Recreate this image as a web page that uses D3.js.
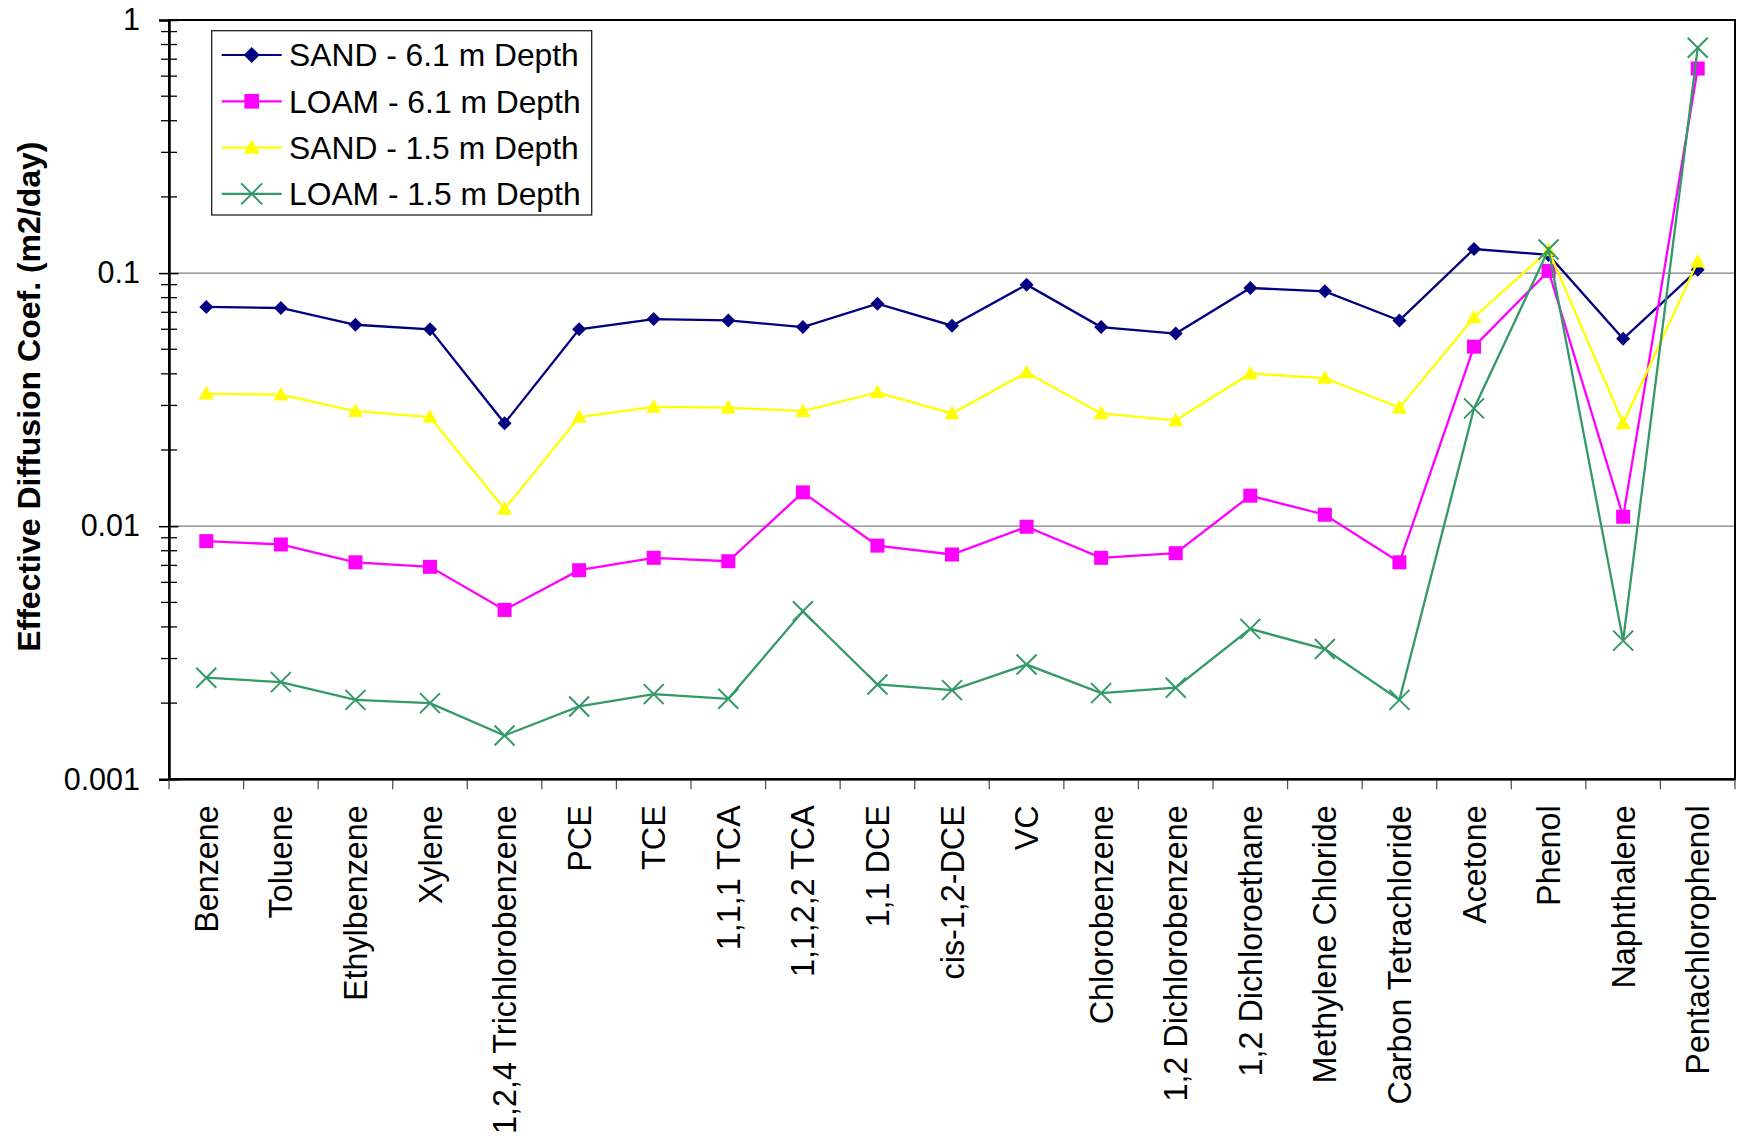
<!DOCTYPE html>
<html>
<head>
<meta charset="utf-8">
<script src="https://cdn.jsdelivr.net/npm/d3@7"></script>
<style>
  html, body { margin: 0; padding: 0; background: #fff; }
  svg { display: block; font-family: "Liberation Sans", Arial, sans-serif; }
</style>
</head>
<body>
<svg id="chart" width="1738" height="1136"></svg>
<script>
// Compounds along the x axis
const categories = [
  "Benzene", "Toluene", "Ethylbenzene", "Xylene", "1,2,4 Trichlorobenzene",
  "PCE", "TCE", "1,1,1 TCA", "1,1,2,2 TCA", "1,1 DCE", "cis-1,2-DCE", "VC",
  "Chlorobenzene", "1,2 Dichlorobenzene", "1,2 Dichloroethane",
  "Methylene Chloride", "Carbon Tetrachloride", "Acetone", "Phenol",
  "Naphthalene", "Pentachlorophenol"
];

// Effective diffusion coefficients (m2/day)
const sand61 = [0.0735, 0.0728, 0.0625, 0.060, 0.0255, 0.060, 0.0658, 0.065, 0.0612, 0.0757,
  0.062, 0.090, 0.0612, 0.0577, 0.0873, 0.0847, 0.065, 0.1245, 0.118, 0.0550, 0.1030];
const loam61 = [0.00873, 0.00847, 0.0072, 0.00691, 0.00467, 0.0067, 0.0075, 0.00727, 0.0136, 0.00838,
  0.00773, 0.00995, 0.0075, 0.00782, 0.0132, 0.0111, 0.0072, 0.0512, 0.102, 0.0109, 0.643];
const sand15 = [0.0334, 0.0331, 0.0285, 0.027, 0.0117, 0.027, 0.0296, 0.0294, 0.0285, 0.0338,
  0.0279, 0.0405, 0.0279, 0.0262, 0.0401, 0.0385, 0.0294, 0.0668, 0.123, 0.0255, 0.111];
const loam15 = [0.00252, 0.00242, 0.00206, 0.0020, 0.00149, 0.00194, 0.00217, 0.00208, 0.00461, 0.00237,
  0.00225, 0.00284, 0.00219, 0.0023, 0.00393, 0.00327, 0.00206, 0.0292, 0.124, 0.00353, 0.777];

const seriesNames = ["SAND - 6.1 m Depth", "LOAM - 6.1 m Depth", "SAND - 1.5 m Depth", "LOAM - 1.5 m Depth"];
const yTickValues = [0.001, 0.01, 0.1, 1];
const yTickLabels = ["0.001", "0.01", "0.1", "1"];
const yTitle = "Effective Diffusion Coef. (m2/day)";

const series = [
  { name: seriesNames[0], values: sand61, color: "#000080", marker: "diamond" },
  { name: seriesNames[1], values: loam61, color: "#FF00FF", marker: "square" },
  { name: seriesNames[2], values: sand15, color: "#FFFF00", marker: "triangle" },
  { name: seriesNames[3], values: loam15, color: "#339966", marker: "cross" }
];

const svg = d3.select("#chart");
const plot = { left: 169, right: 1735, top: 20, bottom: 779.3 };

const x = d3.scaleBand().domain(categories).range([plot.left, plot.right]);
const y = d3.scaleLog().domain([0.001, 1]).range([plot.bottom, plot.top]);

// Horizontal gridlines at the decades
svg.append("g").selectAll("line")
  .data(yTickValues.filter(v => v > 0.001 && v < 1))
  .join("line")
  .attr("x1", plot.left).attr("x2", plot.right)
  .attr("y1", d => y(d)).attr("y2", d => y(d))
  .attr("stroke", "#808080").attr("stroke-width", 1.2);

// Plot frame
svg.append("rect")
  .attr("x", plot.left).attr("y", plot.top)
  .attr("width", plot.right - plot.left).attr("height", plot.bottom - plot.top)
  .attr("fill", "none").attr("stroke", "#000").attr("stroke-width", 2);

// Y axis: major ticks with labels, minor ticks crossing the axis line
const yAxis = d3.axisLeft(y)
  .tickValues(yTickValues)
  .tickFormat((d, i) => yTickLabels[i])
  .tickSize(10)
  .tickPadding(19);
const gy = svg.append("g").attr("transform", `translate(${plot.left},0)`).call(yAxis);
gy.select(".domain").attr("stroke", "#000").attr("stroke-width", 2.5);
gy.selectAll(".tick line").attr("x1", 9.5).attr("stroke", "#000").attr("stroke-width", 1.5);
gy.selectAll(".tick text")
  .attr("font-size", "30.5px").attr("fill", "#000")
  .attr("font-family", "'Liberation Sans', Arial, sans-serif");

const minorTicks = y.ticks().filter(v => !yTickValues.some(m => Math.abs(m - v) < 1e-12));
svg.append("g").selectAll("line")
  .data(minorTicks)
  .join("line")
  .attr("x1", plot.left - 8).attr("x2", plot.left + 8)
  .attr("y1", d => y(d)).attr("y2", d => y(d))
  .attr("stroke", "#000").attr("stroke-width", 1.3);

// X axis: boundary ticks and rotated category labels
const bw = x.bandwidth();
const boundaries = categories.map(c => x(c)).concat([plot.right]);
svg.append("g").selectAll("line")
  .data(boundaries)
  .join("line")
  .attr("x1", d => d).attr("x2", d => d)
  .attr("y1", plot.bottom).attr("y2", plot.bottom + 10)
  .attr("stroke", "#555").attr("stroke-width", 1.3);
svg.append("line")
  .attr("x1", plot.left).attr("x2", plot.right)
  .attr("y1", plot.bottom).attr("y2", plot.bottom)
  .attr("stroke", "#000").attr("stroke-width", 2.5);

svg.append("g").selectAll("text")
  .data(categories)
  .join("text")
  .attr("transform", d => `translate(${x(d) + bw / 2},${plot.bottom + 26}) rotate(-90)`)
  .attr("text-anchor", "end")
  .attr("dy", "0.36em")
  .attr("font-size", "32.3px")
  .attr("fill", "#000")
  .text(d => d);

// Y axis title
svg.append("text")
  .attr("transform", `translate(40,${(plot.top + plot.bottom) / 2 - 3}) rotate(-90)`)
  .attr("text-anchor", "middle")
  .attr("font-size", "32px")
  .attr("font-weight", "bold")
  .attr("fill", "#000")
  .text(yTitle);

// Marker drawing helper
function drawMarker(g, type, color, cx, cy, scale) {
  const s = scale || 1;
  if (type === "diamond") {
    const r = 7 * s;
    g.append("path")
      .attr("d", `M${cx},${cy - r}L${cx + r},${cy}L${cx},${cy + r}L${cx - r},${cy}Z`)
      .attr("fill", color);
  } else if (type === "square") {
    const h = 7 * s;
    g.append("rect").attr("x", cx - h).attr("y", cy - h)
      .attr("width", 2 * h).attr("height", 2 * h).attr("fill", color);
  } else if (type === "triangle") {
    const w = 7.5 * s, h = 13 * s;
    g.append("path")
      .attr("d", `M${cx},${cy - h * 0.6}L${cx + w},${cy + h * 0.45}L${cx - w},${cy + h * 0.45}Z`)
      .attr("fill", color);
  } else if (type === "cross") {
    const r = 10 * s;
    g.append("path")
      .attr("d", `M${cx - r},${cy - r}L${cx + r},${cy + r}M${cx - r},${cy + r}L${cx + r},${cy - r}`)
      .attr("stroke", color).attr("stroke-width", 2).attr("fill", "none");
  }
}

// Series lines and markers
const line = d3.line()
  .x((d, i) => x(categories[i]) + bw / 2)
  .y(d => y(d));

series.forEach(s => {
  const g = svg.append("g");
  g.append("path")
    .datum(s.values)
    .attr("d", line)
    .attr("fill", "none")
    .attr("stroke", s.color)
    .attr("stroke-width", 2.3);
  s.values.forEach((v, i) => {
    drawMarker(g, s.marker, s.color, x(categories[i]) + bw / 2, y(v), 1);
  });
});

// Legend
const legend = svg.append("g");
legend.append("rect")
  .attr("x", 211.7).attr("y", 30.7)
  .attr("width", 380).attr("height", 184.3)
  .attr("fill", "#fff").attr("stroke", "#222").attr("stroke-width", 1.3);
series.forEach((s, i) => {
  const cy = 55 + i * 46.3;
  legend.append("line")
    .attr("x1", 221.7).attr("x2", 281.7)
    .attr("y1", cy).attr("y2", cy)
    .attr("stroke", s.color).attr("stroke-width", 2.2);
  drawMarker(legend, s.marker, s.color, 251.7, cy, s.marker === "diamond" ? 1.15 : 1.05);
  legend.append("text")
    .attr("x", 289).attr("y", cy)
    .attr("dy", "0.36em")
    .attr("font-size", "31.8px")
    .attr("fill", "#000")
    .text(s.name);
});
</script>
</body>
</html>
